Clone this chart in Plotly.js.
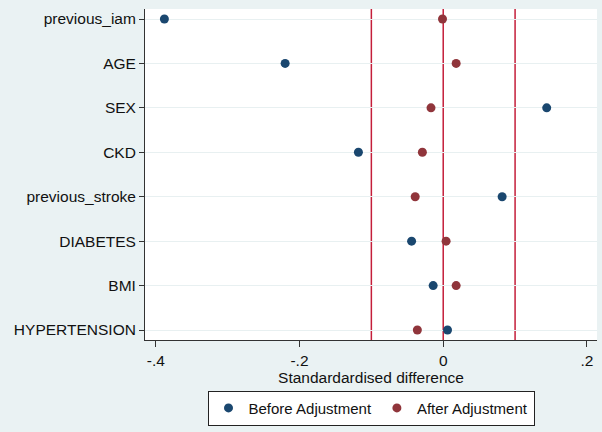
<!DOCTYPE html>
<html>
<head>
<meta charset="utf-8">
<script src="https://cdn.plot.ly/plotly-3.0.1.min.js"></script>
<style>html,body{margin:0;padding:0;background:#eaf2f3;}</style>
</head>
<body>
<div id="chart" style="width:602px;height:432px;"></div>
<script>
// Covariates (top to bottom)
const covariates = ["previous_iam", "AGE", "SEX", "CKD", "previous_stroke", "DIABETES", "BMI", "HYPERTENSION"];
// Standardised differences
const beforeAdj = [-0.388, -0.220, 0.144, -0.118, 0.082, -0.044, -0.014, 0.006];
const afterAdj  = [-0.001, 0.018, -0.017, -0.029, -0.039, 0.004, 0.018, -0.036];
// Reference lines
const refLines = [-0.1, 0, 0.1];
// X tick values and labels
const xTickVals = [-0.4, -0.2, 0, 0.2];
const xTickText = ["-.4", "-.2", "0", ".2"];

const font = {family: "Liberation Sans, Arial, sans-serif", size: 15.5, color: "#111"};
const legendFont = {family: "Liberation Sans, Arial, sans-serif", size: 15, color: "#111"};

const traces = [
  {x: beforeAdj, y: covariates, type: "scatter", mode: "markers", name: "Before Adjustment",
   marker: {color: "#1a476f", size: 9}},
  {x: afterAdj, y: covariates, type: "scatter", mode: "markers", name: "After Adjustment",
   marker: {color: "#90353b", size: 9}}
];

const shapes = refLines.map(v => ({
  type: "line", xref: "x", yref: "paper", x0: v, x1: v, y0: 0, y1: 1,
  line: {color: "#c41e3a", width: 1.5}, layer: "below"
}));

const layout = {
  width: 602, height: 432,
  margin: {l: 145, r: 5, t: 9, b: 92},
  paper_bgcolor: "#eaf2f3",
  plot_bgcolor: "#ffffff",
  font: font,
  showlegend: true,
  xaxis: {
    range: [-0.415, 0.214],
    tickvals: xTickVals, ticktext: xTickText,
    ticks: "outside", ticklen: 6, tickcolor: "#333",
    showline: true, linecolor: "#333", linewidth: 1,
    showgrid: false, zeroline: false,
    title: {text: "Standardardised difference", font: font, standoff: 1},
    tickfont: font
  },
  yaxis: {
    type: "category",
    categoryorder: "array",
    categoryarray: covariates.slice().reverse(),
    range: [-0.225, 7.225],
    ticks: "outside", ticklen: 5, tickcolor: "#333",
    showline: true, linecolor: "#333", linewidth: 1,
    showgrid: true, gridcolor: "#e8f0f1", gridwidth: 1,
    zeroline: false,
    tickfont: font
  },
  legend: {
    orientation: "h",
    x: 0.5, xanchor: "center",
    y: -0.153, yanchor: "top",
    bgcolor: "#ffffff", bordercolor: "#222", borderwidth: 1,
    font: legendFont
  },
  shapes: shapes
};

Plotly.newPlot("chart", traces, layout, {displayModeBar: false, staticPlot: true});
</script>
</body>
</html>
